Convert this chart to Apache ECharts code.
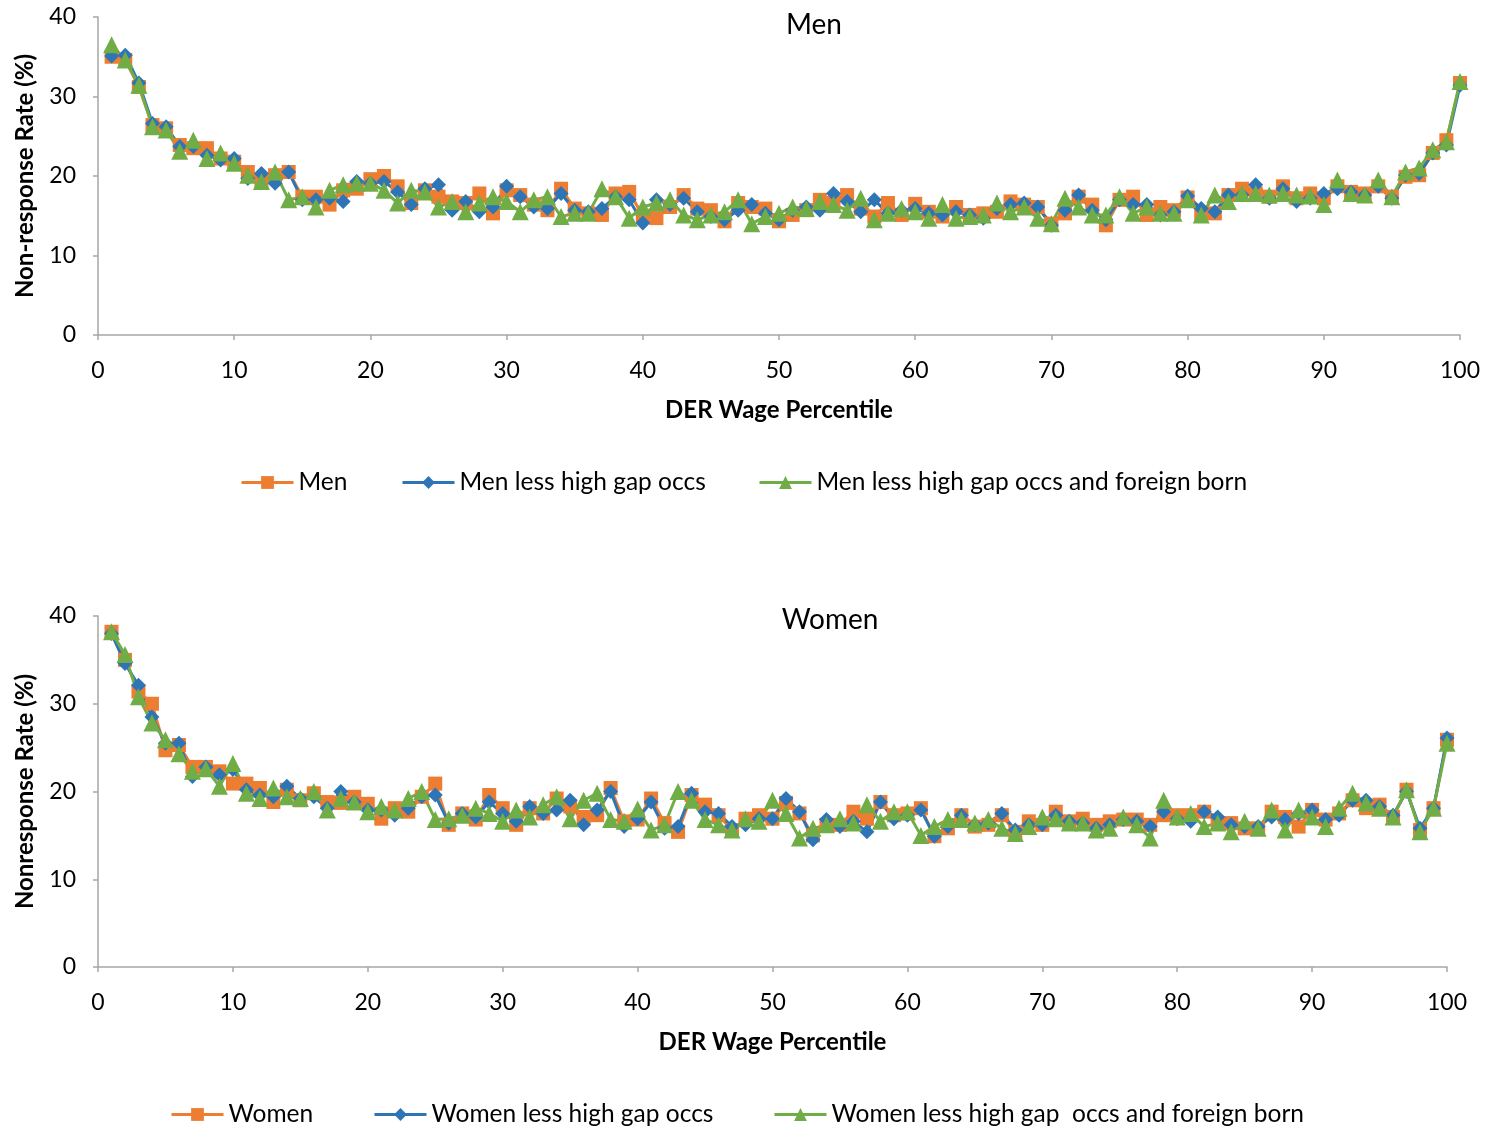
<!DOCTYPE html>
<html><head><meta charset="utf-8">
<script src="https://cdn.jsdelivr.net/npm/echarts@6/dist/echarts.min.js"></script>
<style>html,body{margin:0;padding:0;background:#fff}#c{width:1489px;height:1131px}</style>
</head><body><div id="c"></div>
<script>
const percentiles = Array.from({length:100},(_,i)=>i+1);
const xTicks = [0,10,20,30,40,50,60,70,80,90,100];
const yTicks = [0,10,20,30,40];

const men = [35.0,34.6,31.2,26.4,26.0,23.9,23.5,23.5,22.2,21.8, 20.5,19.3,20.1,20.5,17.4,17.4,16.4,18.2,18.4,19.6,
 20.0,18.7,16.6,18.2,17.4,16.8,16.6,17.8,15.3,18.2, 17.6,16.4,15.7,18.4,15.9,15.3,15.1,17.8,18.0,15.0,
 14.7,16.1,17.6,15.9,15.7,14.3,16.6,16.1,15.9,14.3, 15.1,15.7,17.0,16.6,17.6,15.9,14.9,16.6,15.1,16.5,
 15.5,14.9,16.1,15.1,15.3,15.5,16.8,16.4,16.1,14.0, 15.3,17.4,16.4,13.8,17.0,17.4,15.1,16.1,15.7,17.3,
 15.3,15.3,17.6,18.4,17.8,17.4,18.7,17.2,17.8,17.2, 18.7,18.0,17.8,18.7,17.4,19.9,20.1,22.9,24.5,31.7];
const menLess = [35.1,35.2,31.7,26.6,26.2,23.7,23.7,22.6,22.0,22.2, 19.7,20.3,19.1,20.5,17.0,17.0,17.2,16.8,19.3,19.1,
 19.3,18.0,16.4,18.4,18.9,15.7,16.8,15.5,16.1,18.7, 17.4,16.1,15.9,17.8,15.7,15.5,15.9,17.4,17.0,14.1,
 17.0,16.4,17.2,15.5,14.9,14.5,15.7,16.4,15.3,14.5, 15.7,16.1,15.7,17.8,16.8,15.5,17.0,15.3,15.7,15.9,
 15.3,15.1,15.5,15.1,14.7,15.9,16.4,16.6,16.1,13.8, 15.7,17.6,15.7,14.5,17.0,16.4,16.4,15.1,15.5,17.5,
 15.9,15.5,17.6,17.6,18.9,17.2,18.4,16.8,17.2,17.8, 18.4,18.0,17.6,18.7,17.2,20.1,20.3,22.9,23.9,31.4];
const menLessFB = [36.5,34.6,31.4,26.2,25.8,23.1,24.5,22.2,22.9,21.6, 20.1,19.3,20.5,17.0,17.4,16.1,18.2,18.9,19.1,19.1,
 18.2,16.6,18.2,18.0,16.1,16.8,15.5,16.6,17.4,16.8, 15.5,17.0,17.4,14.9,15.3,15.3,18.4,17.4,14.7,16.1,
 16.6,17.0,15.1,14.5,15.1,15.5,17.0,14.0,14.9,15.3, 16.1,15.9,16.8,16.4,15.7,17.2,14.5,15.3,15.9,15.5,
 14.7,16.4,14.7,14.9,15.1,16.6,15.5,16.1,14.7,14.0, 17.2,16.1,15.1,15.1,17.4,15.3,16.1,15.3,15.3,17.0,
 15.1,17.6,16.8,17.8,17.8,17.6,17.8,17.6,17.5,16.4, 19.5,17.8,17.6,19.5,17.4,20.5,21.0,23.3,24.3,31.9];

const women = [38.2,35.0,31.4,30.0,24.7,25.3,22.8,22.8,22.3,20.9, 20.9,20.4,18.8,20.2,19.0,19.8,18.8,18.7,19.4,18.6,
 16.9,18.1,17.7,19.4,20.9,16.2,17.5,16.8,19.6,18.1, 16.2,18.1,17.5,19.2,18.3,17.1,17.3,20.4,16.6,16.8,
 19.2,16.4,15.4,19.6,18.5,17.3,15.6,16.9,17.3,16.9, 18.7,17.5,15.0,16.2,16.2,17.7,16.9,18.8,17.3,17.5,
 18.1,14.9,15.8,17.3,16.0,16.2,17.3,15.4,16.6,16.2, 17.7,16.6,16.9,16.2,16.6,16.8,16.8,16.2,17.3,17.3,
 17.3,17.7,16.4,16.4,15.8,15.8,17.7,17.1,16.0,17.9, 16.8,17.5,19.0,18.1,18.5,17.1,20.2,15.6,18.1,25.9];
const womenLess = [38.0,34.6,32.1,28.5,25.5,25.5,21.7,22.8,21.9,22.5, 20.2,19.6,19.4,20.6,19.2,19.4,18.1,20.0,18.8,17.9,
 17.9,17.3,18.1,19.4,19.6,16.4,17.5,17.1,18.8,17.5, 16.6,18.3,17.5,17.9,19.0,16.2,17.9,20.0,16.0,16.9,
 18.8,15.8,16.0,19.8,17.7,17.5,16.0,16.2,16.9,16.9, 19.2,17.7,14.5,16.8,16.0,16.6,15.4,18.8,16.9,17.3,
 17.9,14.9,16.0,17.3,16.2,16.4,17.5,15.6,16.2,16.2, 17.3,16.6,16.4,15.8,16.2,16.8,16.6,16.0,17.7,16.9,
 16.6,17.7,17.1,16.2,16.0,16.0,17.1,16.8,17.5,17.9, 16.8,17.3,19.0,19.0,18.3,17.3,20.0,15.8,18.1,26.1];
const womenLessFB = [38.2,35.6,30.8,27.8,25.9,24.3,22.3,22.6,20.6,23.2, 19.8,19.2,20.4,19.4,19.2,20.0,17.9,19.2,18.8,17.7,
 18.3,17.9,19.2,20.0,16.8,16.9,17.3,18.1,17.5,16.6, 17.9,17.1,18.5,19.4,16.9,19.0,19.8,16.8,16.6,18.0,
 15.6,16.2,20.0,19.0,16.8,16.2,15.6,16.9,16.6,19.0, 17.5,14.7,15.8,16.2,16.9,16.4,18.5,16.6,17.7,17.7,
 15.0,16.0,16.8,16.8,16.4,16.8,15.8,15.2,16.0,17.1, 16.9,16.4,16.4,15.6,15.8,17.1,16.2,14.7,19.0,17.1,
 17.5,16.0,16.4,15.4,16.6,15.8,17.9,15.6,17.9,17.1, 16.0,18.1,19.8,18.7,18.1,17.1,20.2,15.4,18.1,25.5];

const names = {
  men: 'Men', menLess: 'Men less high gap occs', menLessFB: 'Men less high gap occs and foreign born',
  women: 'Women', womenLess: 'Women less high gap occs', womenLessFB: 'Women less high gap  occs and foreign born'
};

const ORANGE = '#ED7D31', BLUE = '#2E75B6', GREEN = '#70AD47';
const FONT = 'Lato, "Open Sans", sans-serif';
const AXIS_COLOR = '#A6A6A6';

function pairs(vals){ return vals.map((v,i)=>[percentiles[i], v]); }
function mkSeries(name, vals, color, symbol, size, idx){
  return {
    name, type:'line', xAxisIndex: idx, yAxisIndex: idx, data: pairs(vals),
    symbol, symbolSize: size, showSymbol: true, showAllSymbol: true,
    lineStyle:{color, width:3}, itemStyle:{color, borderWidth:0},
    emphasis:{disabled:true}, animation:false
  };
}
function xAx(idx){
  return { type:'value', gridIndex: idx, min:xTicks[0], max:xTicks[xTicks.length-1], interval:10,
    name:'DER Wage Percentile', nameLocation:'middle', nameGap:63,
    nameTextStyle:{fontFamily:FONT, fontSize:24, fontWeight:'bold', color:'#000'},
    axisLine:{show:true, lineStyle:{color:AXIS_COLOR, width:1.5}},
    axisTick:{show:true, inside:false, length:5, lineStyle:{color:AXIS_COLOR, width:1.5}},
    splitLine:{show:false},
    axisLabel:{fontFamily:FONT, fontSize:23, color:'#000', margin:24}
  };
}
function yAx(idx, nm){
  return { type:'value', gridIndex: idx, min:yTicks[0], max:yTicks[yTicks.length-1], interval:10,
    name:nm, nameLocation:'middle', nameGap:61, nameRotate:90,
    nameTextStyle:{fontFamily:FONT, fontSize:24, fontWeight:'bold', color:'#000'},
    axisLine:{show:true, lineStyle:{color:AXIS_COLOR, width:1.5}},
    axisTick:{show:true, inside:false, length:5, lineStyle:{color:AXIS_COLOR, width:1.5}},
    splitLine:{show:false},
    axisLabel:{fontFamily:FONT, fontSize:23, color:'#000', margin:22}
  };
}
function leg(name, left, top){
  return { data:[name], left, top, padding:0, itemWidth:52, itemHeight:16, itemGap:0,
    selectedMode:false, lineStyle:{width:3},
    textStyle:{fontFamily:FONT, fontSize:24.5, color:'#000'} };
}

const chart = echarts.init(document.getElementById('c'), null, {renderer:'canvas'});
chart.setOption({
  backgroundColor:'#fff',
  animation:false,
  title:[
    {text:'Men', left:809, top:6, textAlign:'center', textStyle:{fontFamily:FONT, fontSize:28, fontWeight:'normal', color:'#000'}},
    {text:'Women', left:825, top:601, textAlign:'center', textStyle:{fontFamily:FONT, fontSize:28, fontWeight:'normal', color:'#000'}}
  ],
  grid:[
    {left:98, top:17, width:1362, height:318},
    {left:98, top:616, width:1349, height:351}
  ],
  xAxis:[xAx(0), xAx(1)],
  yAxis:[yAx(0,'Non-response Rate (%)'), yAx(1,'Nonresponse Rate (%)')],
  legend:[
    leg(names.men, 240, 470), leg(names.menLess, 401, 470), leg(names.menLessFB, 758, 470),
    leg(names.women, 170, 1102), leg(names.womenLess, 373, 1102), leg(names.womenLessFB, 773, 1102)
  ],
  series:[
    mkSeries(names.men, men, ORANGE, 'rect', 14, 0),
    mkSeries(names.menLess, menLess, BLUE, 'diamond', 15, 0),
    mkSeries(names.menLessFB, menLessFB, GREEN, 'triangle', 17, 0),
    mkSeries(names.women, women, ORANGE, 'rect', 14, 1),
    mkSeries(names.womenLess, womenLess, BLUE, 'diamond', 15, 1),
    mkSeries(names.womenLessFB, womenLessFB, GREEN, 'triangle', 17, 1)
  ]
});
</script></body></html>
